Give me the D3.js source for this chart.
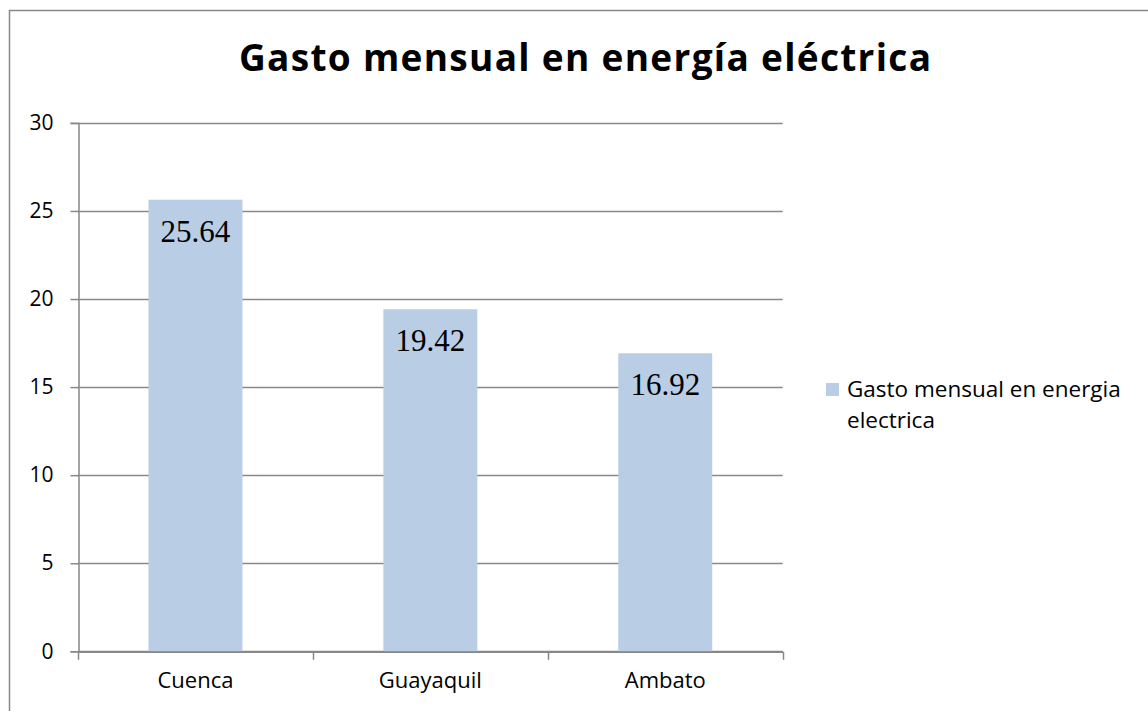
<!DOCTYPE html>
<html>
<head>
<meta charset="utf-8">
<script src="https://cdn.jsdelivr.net/npm/d3@7"></script>
<style>
  body { margin: 0; background: #fff; }
  svg { display: block; }
</style>
</head>
<body>
<script>
var w = 1148;
var h = 711;

// data
var categories = ["Cuenca", "Guayaquil", "Ambato"];
var values = [25.64, 19.42, 16.92];
var yTicks = [0, 5, 10, 15, 20, 25, 30];
var title = "Gasto mensual en energía eléctrica";
var seriesName = ["Gasto mensual en energia", "electrica"];

var plotL = 78, plotR = 782.7, plotT = 122.9, plotB = 651.3;
var sans = "'Open Sans', 'Noto Sans', sans-serif";

var xScale = d3.scaleBand()
    .domain(categories)
    .range([plotL, plotR]);

var yScale = d3.scaleLinear()
    .domain([0, 30])
    .range([plotB, plotT]);

var svg = d3.select("body")
    .append("svg")
    .attr("width", w)
    .attr("height", h);

// outer chart border (right and bottom fall outside the crop)
svg.append("rect")
    .attr("x", 9.5)
    .attr("y", 10.5)
    .attr("width", 1160)
    .attr("height", 720)
    .attr("fill", "#fff")
    .attr("stroke", "#888")
    .attr("stroke-width", 1.5);

svg.append("text")
    .attr("x", 239)
    .attr("y", 71)
    .attr("font-family", sans)
    .attr("font-weight", "bold")
    .attr("font-size", 37)
    .attr("textLength", 692)
    .attr("lengthAdjust", "spacing")
    .attr("fill", "#000")
    .text(title);

// horizontal gridlines
svg.append("g")
    .selectAll("line")
    .data(yTicks)
    .enter()
    .append("line")
    .attr("x1", plotL)
    .attr("x2", plotR)
    .attr("y1", function (d) { return Math.round(yScale(d)) + 0.5; })
    .attr("y2", function (d) { return Math.round(yScale(d)) + 0.5; })
    .attr("stroke", "#888")
    .attr("stroke-width", 1.5);

// bars
var barW = xScale.bandwidth() * 0.4;
svg.append("g")
    .selectAll("rect")
    .data(values)
    .enter()
    .append("rect")
    .attr("x", function (d, i) { return xScale(categories[i]) + (xScale.bandwidth() - barW) / 2; })
    .attr("y", function (d) { return yScale(d); })
    .attr("width", barW)
    .attr("height", function (d) { return plotB - yScale(d); })
    .attr("fill", "#b9cde5");

// value labels inside bars
svg.append("g")
    .selectAll("text")
    .data(values)
    .enter()
    .append("text")
    .attr("x", function (d, i) { return xScale(categories[i]) + xScale.bandwidth() / 2; })
    .attr("y", function (d) { return yScale(d) + 42; })
    .attr("text-anchor", "middle")
    .attr("font-family", "'Liberation Serif', 'Times New Roman', serif")
    .attr("font-size", 31)
    .attr("fill", "#000")
    .text(function (d) { return d.toFixed(2); });

// y axis
var yAxis = svg.append("g")
    .attr("transform", "translate(" + (plotL + 0.5) + ",0)")
    .call(d3.axisLeft(yScale).tickValues(yTicks).tickSize(8).tickPadding(17));
yAxis.select(".domain").attr("stroke", "#888").attr("stroke-width", 1.5);
yAxis.selectAll(".tick line").attr("stroke", "#888").attr("stroke-width", 1.5);
yAxis.selectAll(".tick text")
    .attr("font-family", sans)
    .attr("font-size", 21)
    .attr("fill", "#000");

// x axis
var xAxis = svg.append("g")
    .attr("transform", "translate(0," + (plotB + 0.5) + ")")
    .call(d3.axisBottom(xScale).tickSize(0).tickPadding(21).tickSizeOuter(0));
xAxis.select(".domain").attr("stroke", "#888").attr("stroke-width", 1.5);
xAxis.selectAll(".tick text")
    .attr("font-family", sans)
    .attr("font-size", 22)
    .attr("fill", "#000");

// category boundary ticks
var bounds = categories.map(function (c) { return xScale(c); }).concat([plotR]);
xAxis.selectAll(".bound")
    .data(bounds)
    .enter()
    .append("line")
    .attr("class", "bound")
    .attr("x1", function (d) { return Math.round(d) + 0.5; })
    .attr("x2", function (d) { return Math.round(d) + 0.5; })
    .attr("y1", 0)
    .attr("y2", 8)
    .attr("stroke", "#888")
    .attr("stroke-width", 1.5);

// legend
var legend = svg.append("g");
legend.append("rect")
    .attr("x", 826)
    .attr("y", 383)
    .attr("width", 13)
    .attr("height", 13)
    .attr("fill", "#b9cde5");
legend.selectAll("text")
    .data(seriesName)
    .enter()
    .append("text")
    .attr("x", 847)
    .attr("y", function (d, i) { return 397 + i * 31; })
    .attr("font-family", sans)
    .attr("font-size", 22.5)
    .attr("fill", "#000")
    .text(function (d) { return d; });
</script>
</body>
</html>
